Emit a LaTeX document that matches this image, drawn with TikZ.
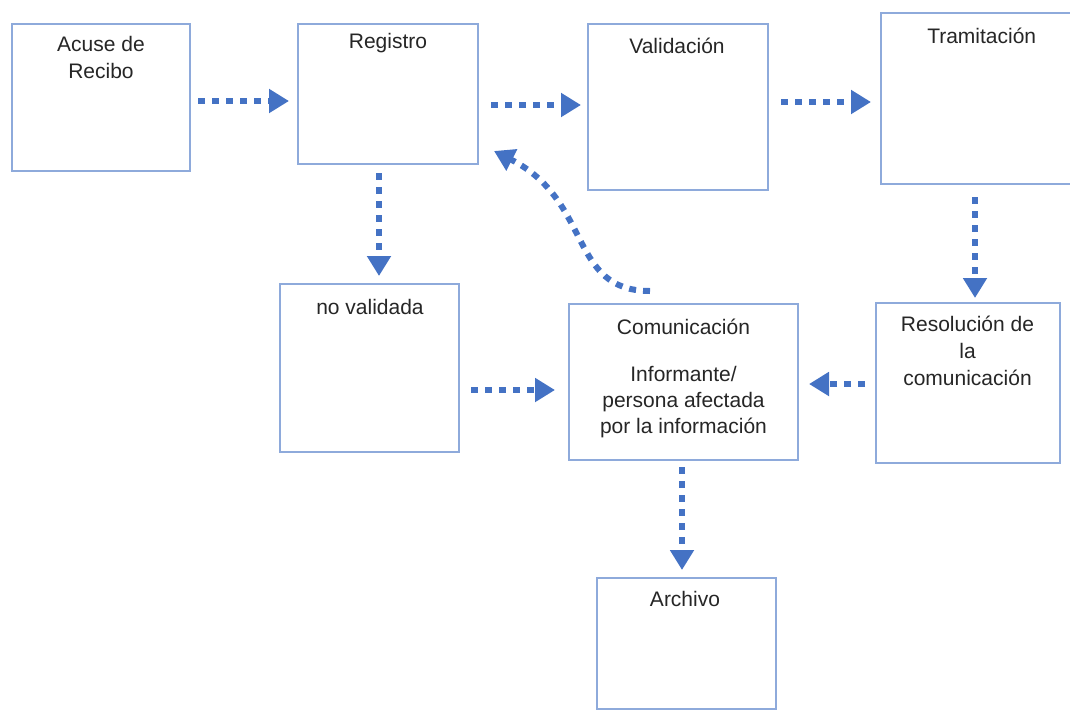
\documentclass[tikz,border=0pt]{standalone}
\usepackage{fontspec}
\setmainfont{Liberation Sans}
\usetikzlibrary{arrows.meta}
\definecolor{boxblue}{RGB}{142,170,219}
\definecolor{arrowblue}{RGB}{68,114,196}
\definecolor{txtgray}{RGB}{38,38,38}
\tikzset{
  box/.style={draw=boxblue, line width=2pt, rectangle, inner sep=0pt, fill=white},
  txt/.style={text=txtgray, font=\fontsize{21}{26.5}\selectfont, align=center, inner sep=0pt, anchor=base},
  arr/.style={draw=arrowblue, line width=6pt, dash pattern=on 7pt off 7pt,
    -{Triangle[length=20pt,width=23pt,fill=arrowblue]}}
}
\begin{document}
\begin{tikzpicture}[x=1pt,y=-1pt]
\useasboundingbox (0,0) rectangle (1070,710);
% boxes
\node[box, minimum width=178pt, minimum height=147pt] (acuse) at (101,97.5) {};
\node[box, minimum width=180pt, minimum height=140pt] (registro) at (388,94) {};
\node[box, minimum width=180pt, minimum height=166pt] (valid) at (678,107) {};
\node[box, minimum width=200pt, minimum height=171pt] (tram) at (981,98.5) {};
\node[box, minimum width=179pt, minimum height=168pt] (novalid) at (369.5,368) {};
\node[box, minimum width=229pt, minimum height=156pt] (comun) at (683.5,382) {};
\node[box, minimum width=184pt, minimum height=160pt] (resol) at (968,383) {};
\node[box, minimum width=179pt, minimum height=131pt] (archivo) at (686.5,643.5) {};
% texts (anchor base = baseline of last line)
\node[txt] (acuset) at (101,78.3) {Acuse de\\Recibo};
\node[txt] (registrot) at (388,48.3) {Registro};
\node[txt] (validt) at (677,53.3) {Validación};
\node[txt] (tramt) at (981.7,43.3) {Tramitación};
\node[txt] (novalidt) at (370,314.3) {no validada};
\node[txt, font=\fontsize{21}{26}\selectfont] (comunt) at (683.5,433.3) {Comunicación\\[20.7pt]Informante/\\persona afectada\\por la información};
\node[txt, font=\fontsize{21}{27}\selectfont] (resolt) at (967.5,385.7) {Resolución de\\la\\comunicación};
\node[txt] (archivot) at (685,606.7) {Archivo};
% guide coordinates
\coordinate (r1) at (0,101);
\coordinate (r2) at (0,105);
\coordinate (r3) at (0,102);
\coordinate (c4) at (379,0);
\coordinate (c5) at (975,0);
\coordinate (r6) at (0,390);
\coordinate (r7) at (0,384);
\coordinate (c8) at (682,0);
% connectors
\draw[arr, shorten <=7pt, shorten >=8pt] (acuse.east |- r1) -- (registro.west |- r1);
\draw[arr, shorten <=12pt, shorten >=6pt] (registro.east |- r2) -- (valid.west |- r2);
\draw[arr, shorten <=12pt, shorten >=9pt] (valid.east |- r3) -- (tram.west |- r3);
\draw[arr, shorten <=8pt, shorten >=7pt] (registro.south -| c4) -- (novalid.north -| c4);
\draw[arr, shorten <=12pt, shorten >=4pt] (tram.south -| c5) -- (resol.north -| c5);
\draw[arr, shorten <=11pt, shorten >=13pt] (novalid.east |- r6) -- (comun.west |- r6);
\draw[arr, shorten <=10pt, shorten >=10pt] (resol.west |- r7) -- (comun.east |- r7);
\draw[arr, shorten <=6pt, shorten >=7pt] (comun.south -| c8) -- (archivo.north -| c8);
\coordinate (cs) at ([xshift=-33.5pt,yshift=12pt]comun.north);
\coordinate (ce) at ([xshift=15pt,yshift=14pt]registro.south east);
\draw[arr] (cs) .. controls ([xshift=-82pt]cs) and ([xshift=99pt,yshift=-50pt]ce) .. (ce);
\end{tikzpicture}
\end{document}
